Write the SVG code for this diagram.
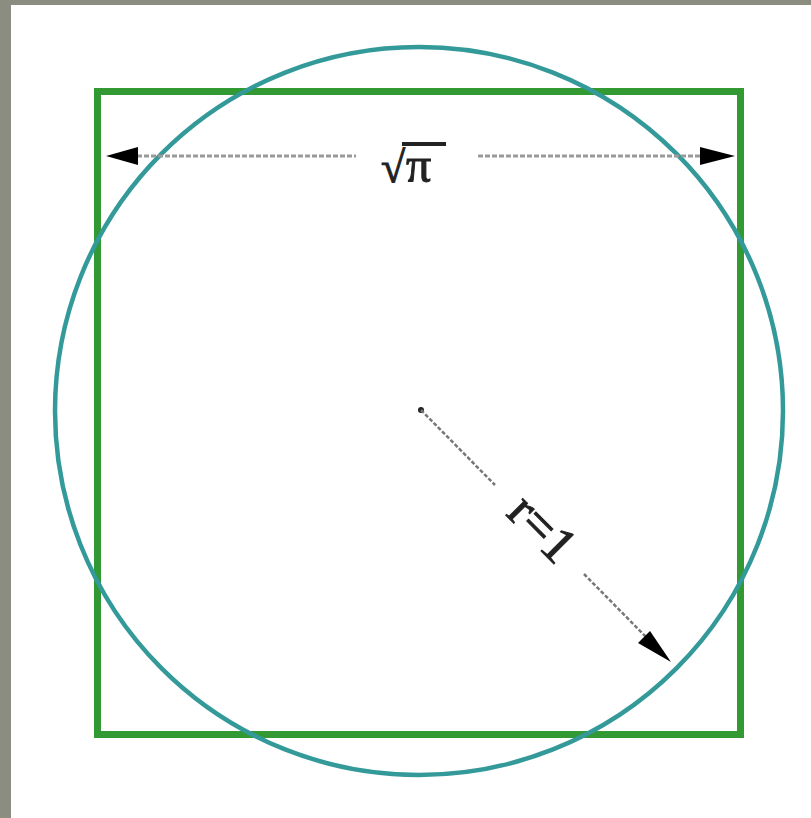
<svg xmlns="http://www.w3.org/2000/svg" width="811" height="818" viewBox="0 0 811 818">
  <style>
    .dim { stroke: #9a9a9a; stroke-width: 3; stroke-dasharray: 5 2; fill: none; }
    .rad { stroke: #777; stroke-width: 2.5; stroke-dasharray: 4 2; fill: none; }
    .arrow { fill: #000; }
    .lbl { font-family: "Liberation Serif", "DejaVu Serif", serif; fill: #222; stroke: #222; stroke-width: 1; }
  </style>
  <rect x="0" y="0" width="811" height="818" fill="#8b8d80"/>
  <rect x="11" y="5" width="800" height="813" fill="#ffffff"/>
  <g id="square">
    <rect x="97.5" y="91.5" width="643" height="643" fill="none" stroke="#339933" stroke-width="7"/>
  </g>
  <g id="circle">
    <circle cx="419" cy="411" r="364" fill="none" stroke="#339999" stroke-width="4.5"/>
  </g>
  <g id="connectors">
    <line class="dim" x1="130" y1="156" x2="356" y2="156"/>
    <line class="dim" x1="478" y1="156" x2="705" y2="156"/>
    <polygon class="arrow" points="106,156 138,147 138,165"/>
    <polygon class="arrow" points="735,156 700,147 700,165"/>
    <circle cx="421" cy="410" r="3" fill="#222"/>
    <line class="rad" x1="421" y1="410" x2="495" y2="485"/>
    <line class="rad" x1="584" y1="574" x2="650" y2="641"/>
    <polygon class="arrow" points="671,662 638,643 650,631"/>
  </g>
  <g id="label-side">
    <text class="lbl" x="381" y="182" font-size="44">√</text>
    <line x1="402" y1="144" x2="446" y2="144" stroke="#222" stroke-width="4"/>
    <text class="lbl" x="406" y="182" font-size="50">π</text>
  </g>
  <g id="label-radius">
    <text class="lbl" x="0" y="0" font-size="52" text-anchor="middle" dominant-baseline="central" transform="translate(543,528) rotate(45.2)">r=1</text>
  </g>
</svg>
